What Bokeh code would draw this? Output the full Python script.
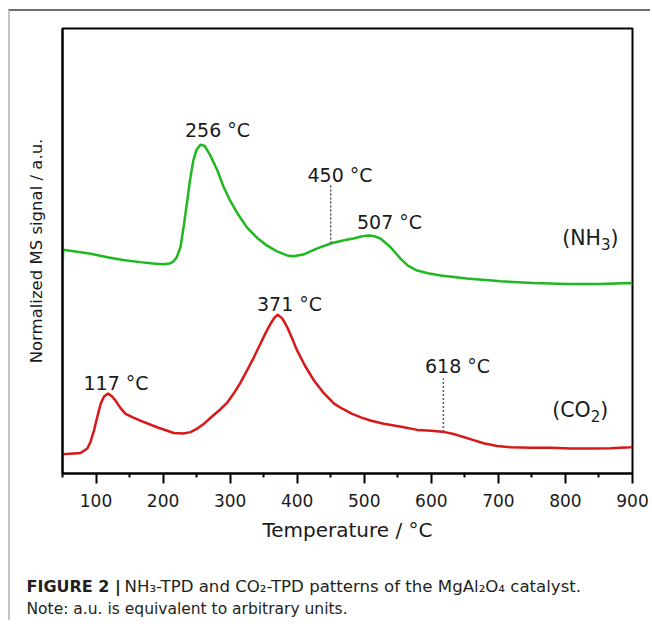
import numpy as np
from bokeh.plotting import figure
from bokeh.models import FixedTicker, Label, Range1d
from bokeh.embed import file_html
from bokeh.resources import INLINE

# ---------------- data ----------------
nh3_temp = [50, 51, 92, 117, 140, 166, 185, 200, 210, 215, 220, 226, 231, 236, 240, 245,
            250, 256, 262, 270, 281, 290, 300, 312, 325, 340, 355, 370, 385, 394, 409,
            430, 452, 470, 484, 497, 507, 516, 524, 532, 539, 547, 554, 565, 579, 595,
            614, 653, 703, 752, 802, 852, 897, 900]
nh3_signal = [45.6, 50.3, 49.4, 48.6, 48.0, 47.5, 47.2, 47.0, 47.2, 47.6, 48.5, 50.9, 55.8,
              61.3, 65.8, 70.3, 72.8, 73.9, 73.6, 71.6, 68.1, 64.5, 61.3, 58.2, 55.3, 53.0,
              51.2, 49.9, 49.0, 48.8, 49.2, 50.6, 51.8, 52.4, 52.8, 53.3, 53.5, 53.3, 52.8,
              51.8, 50.9, 49.5, 48.3, 46.7, 45.6, 45.0, 44.5, 43.8, 43.2, 42.8, 42.6, 42.6,
              42.8, 42.7]

co2_temp = [50, 77, 87, 92, 97, 102, 107, 112, 118, 124, 129, 136, 144, 155, 166, 191, 216,
            230, 241, 251, 261, 273, 286, 296, 305, 315, 325, 335, 345, 353, 360, 366, 371,
            378, 385, 392, 400, 412, 425, 440, 455, 468, 482, 495, 509, 529, 555, 579, 600,
            620, 635, 648, 663, 678, 698, 718, 748, 778, 808, 837, 867, 897, 900]
co2_signal = [4.3, 4.6, 5.6, 7.2, 9.7, 12.8, 15.7, 17.3, 18.0, 17.3, 16.4, 14.8, 13.4, 12.6,
              11.9, 10.4, 9.1, 9.0, 9.3, 10.1, 11.2, 12.8, 14.5, 16.0, 17.9, 20.3, 23.1, 26.0,
              29.1, 31.6, 33.6, 35.0, 35.7, 34.8, 32.9, 30.5, 27.6, 24.1, 20.9, 18.0, 15.7,
              14.5, 13.4, 12.6, 11.9, 11.2, 10.5, 9.8, 9.6, 9.3, 8.8, 8.2, 7.5, 6.8, 6.2, 5.9,
              5.8, 5.8, 5.6, 5.6, 5.7, 5.9, 6.0]

x_ticks = [100, 200, 300, 400, 500, 600, 700, 800, 900]
x_minor_ticks = [50, 150, 250, 350, 450, 550, 650, 750, 850]

peak_labels = ["256 °C", "450 °C", "507 °C", "371 °C", "117 °C", "618 °C"]
shoulder_temps_nh3 = [450]
shoulder_temps_co2 = [618]

caption_bold = "FIGURE 2 |"
caption_line1 = "NH\u2083-TPD and CO\u2082-TPD patterns of the MgAl\u2082O\u2084 catalyst."
caption_line2 = "Note: a.u. is equivalent to arbitrary units."

# ---------------- layout helpers (positions given in page px) ----------------
OX, OY = 10, 11                           # page px of the content origin (css margin + border)
W = 642
H1 = 549                                  # main figure height  (page 11 .. 560)
H2 = 62                                   # caption figure height (page 560 .. 622)
PL, PR, PT, PB = 62, 632, 28, 473         # frame edges in page px
FL, FR, FT, FB = PL - OX, PR - OX, PT - OY, PB - OY
X0, X1, Y0, Y1 = 50, 900, 0, 100


def dx(px):   # page px -> data x
    return X0 + (px - PL) * (X1 - X0) / (PR - PL)


def dy(py):   # page px -> data y
    return Y0 + (PB - py) * (Y1 - Y0) / (PB - PT)


FONT = "DejaVu Sans"
TXT = "#1a1a1a"

p = figure(width=W, height=H1, x_range=Range1d(X0, X1), y_range=Range1d(Y0, Y1),
           output_backend="svg", toolbar_location=None,
           min_border_left=FL, min_border_right=W - FR, min_border_top=FT,
           min_border_bottom=H1 - FB)
p.background_fill_color = "white"
p.border_fill_color = "white"
p.outline_line_color = "black"
p.outline_line_width = 2
p.xgrid.visible = False
p.ygrid.visible = False

# x axis
xa = p.xaxis[0]
xa.ticker = FixedTicker(ticks=x_ticks, minor_ticks=x_minor_ticks)
xa.major_tick_in = 0
xa.major_tick_out = 10
xa.minor_tick_in = 0
xa.minor_tick_out = 4
xa.axis_line_width = 2
xa.major_tick_line_width = 2
xa.minor_tick_line_width = 2
xa.axis_line_color = "black"
xa.major_tick_line_color = "black"
xa.minor_tick_line_color = "black"
xa.major_label_text_font = FONT
xa.major_label_text_font_size = "17px"
xa.major_label_text_color = TXT
xa.major_label_standoff = 10
xa.axis_label = "Temperature / °C"
xa.axis_label_text_font = FONT
xa.axis_label_text_font_size = "20px"
xa.axis_label_text_font_style = "normal"
xa.axis_label_text_color = TXT
xa.axis_label_standoff = 8

# y axis
ya = p.yaxis[0]
ya.ticker = FixedTicker(ticks=[])
ya.major_tick_in = 0
ya.major_tick_out = 0
ya.minor_tick_in = 0
ya.minor_tick_out = 0
ya.major_label_standoff = 0
ya.axis_line_width = 2
ya.axis_line_color = "black"
ya.axis_label = "Normalized MS signal / a.u."
ya.axis_label_text_font = FONT
ya.axis_label_text_font_size = "16.5px"
ya.axis_label_text_font_style = "normal"
ya.axis_label_text_color = TXT
ya.axis_label_standoff = 17

# curves
p.line(nh3_temp, nh3_signal, line_color="#1fb81f", line_width=2.5)
p.line(co2_temp, co2_signal, line_color="#d81818", line_width=2.5)

# dotted marker lines at shoulders
for t in shoulder_temps_nh3:
    yb = float(np.interp(t, nh3_temp, nh3_signal))
    p.segment(x0=[t], y0=[yb], x1=[t], y1=[yb + 13.2], line_color="#555555",
              line_width=1.5, line_dash="2 2")
for t in shoulder_temps_co2:
    yb = float(np.interp(t, co2_temp, co2_signal))
    p.segment(x0=[t], y0=[yb], x1=[t], y1=[yb + 12.0], line_color="#555555",
              line_width=1.5, line_dash="2 2")

# peak labels (centre positions in page px)
label_pos = [(217, 129), (339.5, 174.5), (389, 221.7), (289, 303), (115.5, 382), (457, 365.3)]
for txt, (px, py) in zip(peak_labels, label_pos):
    p.add_layout(Label(x=dx(px), y=dy(py), text=txt, text_font=FONT,
                       text_font_size="19px", text_color=TXT,
                       text_align="center", text_baseline="middle"))


def chem(parts, px, py):
    """parts: list of (text, is_sub); px = left edge page px, py = centre page px"""
    x = px
    for t, sub in parts:
        size = 15 if sub else 20.5
        w = sum({"(": 0.390, ")": 0.390, "N": 0.748, "H": 0.752, "C": 0.698,
                 "O": 0.787, "3": 0.636, "2": 0.636}[c] for c in t) * size
        yy = py + (6 if sub else 0)
        p.add_layout(Label(x=dx(x), y=dy(yy), text=t, text_font=FONT,
                           text_font_size=f"{size}px", text_color=TXT,
                           text_align="left", text_baseline="middle"))
        x += w


chem([("(NH", False), ("3", True), (")", False)], 561.7, 237.5)
chem([("(CO", False), ("2", True), (")", False)], 551.7, 409)

p.styles = {"margin-left": "8px", "margin-top": "9px",
            "border-top": "2px solid #6e6e6e", "border-left": "2px solid #c4c4c4"}

# ---------------- caption figure (separate root, so no frame alignment) ----------------
CY0 = OY + H1                              # page y of caption figure top
cap = figure(width=W, height=H2, x_range=Range1d(0, W), y_range=Range1d(H2, 0),
             output_backend="svg", toolbar_location=None, x_axis_type=None,
             y_axis_type=None, min_border=0)
cap.outline_line_color = None
cap.xgrid.visible = False
cap.ygrid.visible = False
cap.background_fill_color = "white"
cap.border_fill_color = "white"
cap.styles = {"margin-left": "8px", "border-left": "2px solid #c4c4c4"}

CAP = "#231f20"
cap.add_layout(Label(x=26 - OX, y=588 - CY0, text=caption_bold, text_font=FONT,
                     text_font_size="16px", text_font_style="bold", text_color=CAP,
                     text_align="left", text_baseline="middle"))
cap.add_layout(Label(x=124 - OX, y=588 - CY0, text=caption_line1, text_font=FONT,
                     text_font_size="16.6px", text_color=CAP,
                     text_align="left", text_baseline="middle"))
cap.add_layout(Label(x=26 - OX, y=610.7 - CY0, text=caption_line2, text_font=FONT,
                     text_font_size="15.5px", text_color=CAP,
                     text_align="left", text_baseline="middle"))

open("out.html", "w").write(file_html([p, cap], INLINE))
